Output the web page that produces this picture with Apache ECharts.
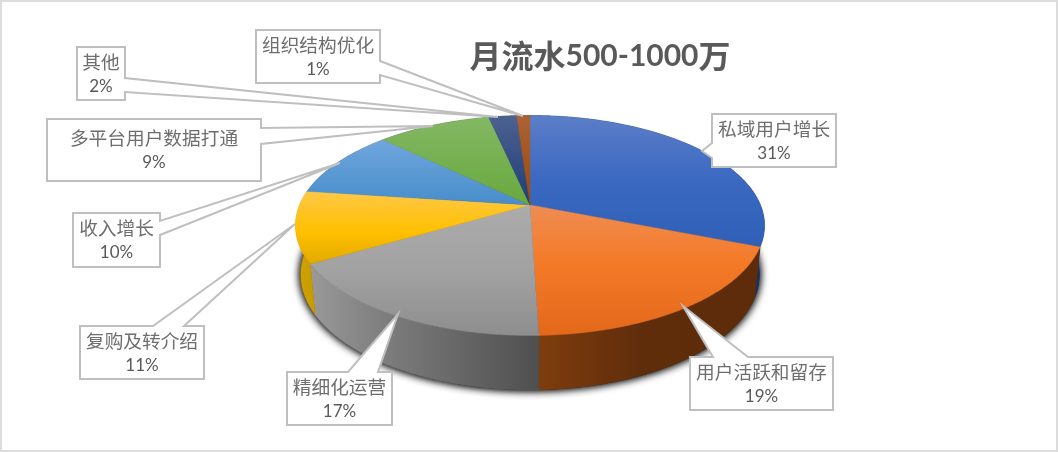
<!DOCTYPE html>
<html>
<head>
<meta charset="utf-8">
<style>html,body{margin:0;padding:0;background:#fff}#c{width:1058px;height:452px}</style>
<script src="https://cdn.jsdelivr.net/npm/echarts@6/dist/echarts.min.js"></script>
</head>
<body>
<div id="c"></div>
<script>
const chartTitle = '月流水500-1000万';
const categories = ['私域用户增长','用户活跃和留存','精细化运营','复购及转介绍','收入增长','多平台用户数据打通','其他','组织结构优化'];
const shares = [31.0, 18.5, 17.1, 10.5, 10.1, 9.4, 2.3, 1.1];

// ---- drawing style, kept apart from the data ----
const FONT = '"Noto Sans CJK SC","Noto Sans",sans-serif';
const topStops = [
  [[115,'#5c7ec8'],[180,'#3b69c1'],[247,'#2f5fb6']],
  [[207,'#ef8c52'],[262,'#f47a28'],[335,'#e4681a']],
  [[207,'#ababab'],[270,'#a2a2a2'],[335,'#8e8e8e']],
  [[192,'#fec846'],[232,'#ffc000'],[264,'#e2aa00']],
  [[140,'#70a6dd'],[205,'#478dca']],
  [[117,'#83b864'],[205,'#69a83e']],
  [[116,'#4c618f'],[205,'#1f3d78']],
  [[116,'#ab6236'],[205,'#9c480b']]
];
const wallStops = [
  [[700,'#14306a'],[770,'#14306a']],
  [[540,'#7e3d0d'],[640,'#602d0b'],[770,'#5e2c0a']],
  [[310,'#999999'],[400,'#787878'],[539,'#4f4f4f']],
  [[295,'#d2a300'],[315,'#c79a00']],
  [[300,'#777'],[310,'#777']],[[300,'#555'],[310,'#555']],[[300,'#333'],[310,'#333']],[[300,'#333'],[310,'#333']]
];
// callout: box [x0,y0,x1,y1], side the wedge leaves from, wedge base pair, tip [x,y]
const callouts = [
  {box:[712,114,836,167], side:'left',  base:[143,158], tip:[702,151]},
  {box:[690,357,833,410], side:'top',   base:[713,748], tip:[683,306]},
  {box:[287,372,392,425], side:'top',   base:[348,378], tip:[398,314]},
  {box:[80,326,204,379],  side:'top',   base:[153,184], tip:[295,224]},
  {box:[73,213,160,267],  side:'right', base:[221,235], tip:[340,163]},
  {box:[47,119,261,181],  side:'right', base:[128,144], tip:[433,126]},
  {box:[77,47,125,100],   side:'right', base:[78,92],   tip:[498,117]},
  {box:[256,30,380,83],   side:'right', base:[61,75],   tip:[523,116]}
];

// ---- perspective disc ----
const APEX = [530, 205], KX = 230.4, KY = 106.2, C = 0.1863;
const BOTTOM = {y: 253, sx: 0.978, sy: 1.05};
function project(theta) {
  const X = Math.sin(theta), Y = -Math.cos(theta), d = 1 - C * Y;
  return [KX * X / d, KY * Y / d];
}
const topPt = t => { const p = project(t); return [APEX[0] + p[0], APEX[1] + p[1]]; };
const botPt = t => { const p = project(t); return [APEX[0] + BOTTOM.sx * p[0], BOTTOM.y + BOTTOM.sy * p[1]]; };

const total = shares.reduce((a, b) => a + b, 0);
const bounds = [0];
shares.forEach(v => bounds.push(bounds[bounds.length - 1] + v / total * 2 * Math.PI));
function arc(fn, a, b) {
  const n = Math.max(2, Math.ceil(Math.abs(b - a) / 0.01)), out = [];
  for (let i = 0; i <= n; i++) out.push(fn(a + (b - a) * i / n));
  return out;
}
function grad(stops, vertical) {
  const lo = stops[0][0], hi = stops[stops.length - 1][0];
  const cs = stops.map(s => ({offset: (s[0] - lo) / (hi - lo), color: s[1]}));
  return vertical ? new echarts.graphic.LinearGradient(0, lo, 0, hi, cs, true)
                  : new echarts.graphic.LinearGradient(lo, 0, hi, 0, cs, true);
}
function calloutPoints(c) {
  const [x0, y0, x1, y1] = c.box, [b0, b1] = c.base;
  if (c.side === 'left')  return [[x0,y0],[x1,y0],[x1,y1],[x0,y1],[x0,b1],c.tip,[x0,b0]];
  if (c.side === 'right') return [[x0,y0],[x1,y0],[x1,b0],c.tip,[x1,b1],[x1,y1],[x0,y1]];
  return [[x0,y0],[b0,y0],c.tip,[b1,y0],[x1,y0],[x1,y1],[x0,y1]];
}
const rows = categories.map((n, i) => [n, shares[i]]);

const option = {
  animation: false,
  backgroundColor: '#fff',
  title: {
    text: '{c|月流水}{n|500-1000}{c|万}',
    left: 595, top: 35, textAlign: 'center',
    textStyle: { rich: {
      c: {fontFamily: FONT, fontWeight: 'bold', fontSize: 32, color: '#595959'},
      n: {fontFamily: '"Lato","Noto Sans",sans-serif', fontWeight: 'bold', fontSize: 30, color: '#595959'}
    }}
  },
  graphic: [{type: 'rect', z: 0, shape: {x: 1, y: 1, width: 1056, height: 450},
             style: {fill: '#fff', stroke: '#dcdcdc', lineWidth: 2}}],
  series: [
    { // soft shadow under the body of the pie
      type: 'custom', coordinateSystem: 'none', z: 2, silent: true,
      data: [[chartTitle]],
      renderItem: () => ({
        type: 'group', children: [0, 1].map(() => ({
          type: 'polygon',
          shape: {points: arc(botPt, 0, 2 * Math.PI)},
          style: {fill: '#333', shadowColor: 'rgba(0,0,0,0.9)', shadowBlur: 8}
        }))
      })
    },
    { // outer walls
      type: 'custom', coordinateSystem: 'none', z: 3, silent: true,
      data: rows,
      renderItem: (p) => {
        const i = p.dataIndex, a = bounds[i], b = bounds[i + 1];
        const pts = arc(topPt, a, b).concat(arc(botPt, b, a));
        const fill = grad(wallStops[i], false);
        return {type: 'polygon', shape: {points: pts}, style: {fill, stroke: fill, lineWidth: 0.4}};
      }
    },
    { // top faces
      type: 'custom', coordinateSystem: 'none', z: 4, silent: true,
      data: rows,
      renderItem: (p) => {
        const i = p.dataIndex, a = bounds[i], b = bounds[i + 1];
        const fill = grad(topStops[i], true);
        return {type: 'polygon', shape: {points: [APEX].concat(arc(topPt, a, b))},
                style: {fill, stroke: fill, lineWidth: 0.4}};
      }
    },
    { // labels with wedge callouts, last category drawn first
      type: 'custom', coordinateSystem: 'none', z: 5, silent: true,
      data: rows.slice().reverse(),
      renderItem: (p) => {
        const i = categories.length - 1 - p.dataIndex, c = callouts[i];
        const cx = (c.box[0] + c.box[2]) / 2, cy = (c.box[1] + c.box[3]) / 2;
        return {type: 'group', children: [
          {type: 'polygon', shape: {points: calloutPoints(c)},
           style: {fill: '#fff', stroke: '#bfbfbf', lineWidth: 2, lineJoin: 'miter'}},
          {type: 'text', x: cx, y: cy - 12, style: {text: categories[i], align: 'center', verticalAlign: 'middle',
            fill: '#6e6e6e', font: '18.7px ' + FONT}},
          {type: 'text', x: cx, y: cy + 13, style: {text: Math.round(shares[i]) + '%', align: 'center', verticalAlign: 'middle',
            fill: '#595959', font: '17px "Lato","Noto Sans",sans-serif'}}
        ]};
      }
    }
  ]
};
const chart = echarts.init(document.getElementById('c'), null, {renderer: 'canvas'});
chart.setOption(option);
</script>
</body>
</html>
